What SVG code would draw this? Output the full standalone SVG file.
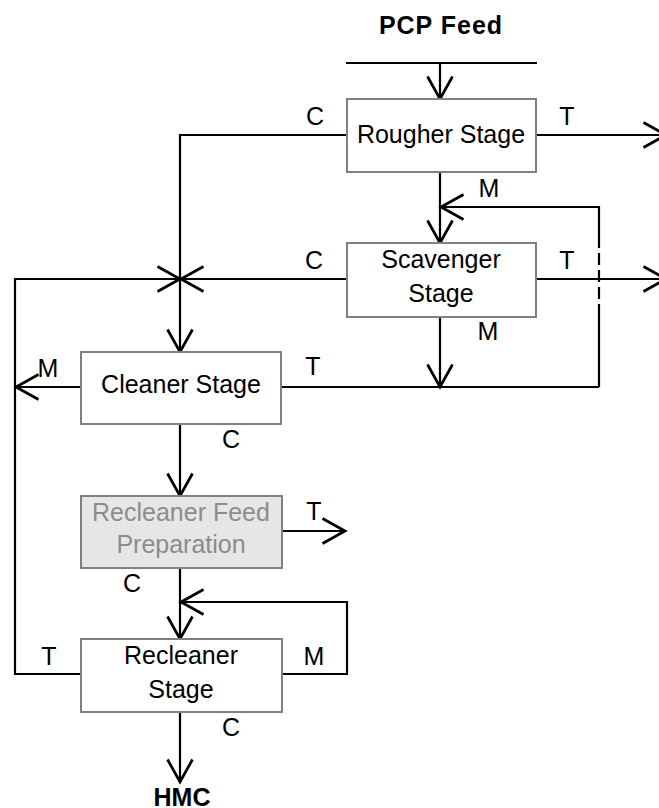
<svg xmlns="http://www.w3.org/2000/svg" width="659" height="808" viewBox="0 0 659 808">
<defs>
<marker id="arr" markerUnits="userSpaceOnUse" markerWidth="30" markerHeight="30" refX="0" refY="0" viewBox="-20 -12 24 24" orient="auto" overflow="visible">
<path d="M-18,-10 L0,0 L-18,10" fill="none" stroke="#000" stroke-width="2.2"/>
</marker>
<style>
.box{fill:#fff;stroke:#808080;stroke-width:2}
.grey{fill:#e6e6e6}
.ln{fill:none;stroke:#000;stroke-width:2.2}
.ar{marker-end:url(#arr)}
.dash{stroke-dasharray:12 5}
.t{font-family:"Liberation Sans",Arial,sans-serif;font-size:25px;fill:#000;text-anchor:middle}
.gt{fill:#8c8c8c}
.b{font-weight:bold}
</style>
</defs>
<rect width="659" height="808" fill="#fff"/>
<g id="connectors">
<path class="ln" d="M346,63 H537"/>
<path class="ln ar" d="M440,63 V99"/>
<path class="ln ar" d="M347,135 H180 V352"/>
<path class="ln ar" d="M536,135 H666"/>
<path class="ln ar" d="M440,172 V243"/>
<path class="ln" d="M599,387 V316"/>
<path class="ln dash" d="M599,316 V242"/>
<path class="ln ar" d="M599,242 V207 H441"/>
<path class="ln ar" d="M347,279 H181"/>
<path class="ln ar" d="M81,674 H15 V279 H180"/>
<path class="ln ar" d="M536,279 H666"/>
<path class="ln ar" d="M440,317 V387"/>
<path class="ln" d="M281,387 H599"/>
<path class="ln ar" d="M81,387 H16"/>
<path class="ln ar" d="M180,424 V496"/>
<path class="ln ar" d="M282,531 H345"/>
<path class="ln ar" d="M180,568 V639"/>
<path class="ln ar" d="M282,674 H347 V602 H181"/>
<path class="ln ar" d="M180,712 V782"/>
</g>
<g id="labels">
<text class="t b" x="441" y="34" letter-spacing="1">PCP Feed</text>
<text class="t" x="315" y="125">C</text>
<text class="t" x="567" y="125">T</text>
<text class="t" x="489" y="197">M</text>
<text class="t" x="314" y="269">C</text>
<text class="t" x="567" y="269">T</text>
<text class="t" x="488" y="340">M</text>
<text class="t" x="313" y="375">T</text>
<text class="t" x="48" y="377">M</text>
<text class="t" x="231" y="448">C</text>
<text class="t" x="314" y="520">T</text>
<text class="t" x="132" y="592">C</text>
<text class="t" x="49" y="665">T</text>
<text class="t" x="314" y="665">M</text>
<text class="t" x="231" y="736">C</text>
<text class="t b" x="182" y="806">HMC</text>
</g>
<g id="rougher">
<rect class="box" x="347" y="99" width="189" height="73"/>
<text class="t" x="441" y="143">Rougher Stage</text>
</g>
<g id="scavenger">
<rect class="box" x="347" y="243" width="189" height="74"/>
<text class="t" x="441" y="268">Scavenger</text>
<text class="t" x="441" y="302">Stage</text>
</g>
<g id="cleaner">
<rect class="box" x="81" y="352" width="200" height="72"/>
<text class="t" x="181" y="393">Cleaner Stage</text>
</g>
<g id="recleaner-feed-prep">
<rect class="box grey" x="81" y="496" width="201" height="72"/>
<text class="t gt" x="181" y="521">Recleaner Feed</text>
<text class="t gt" x="181" y="553">Preparation</text>
</g>
<g id="recleaner">
<rect class="box" x="81" y="639" width="201" height="73"/>
<text class="t" x="181" y="664">Recleaner</text>
<text class="t" x="181" y="698">Stage</text>
</g>
</svg>
